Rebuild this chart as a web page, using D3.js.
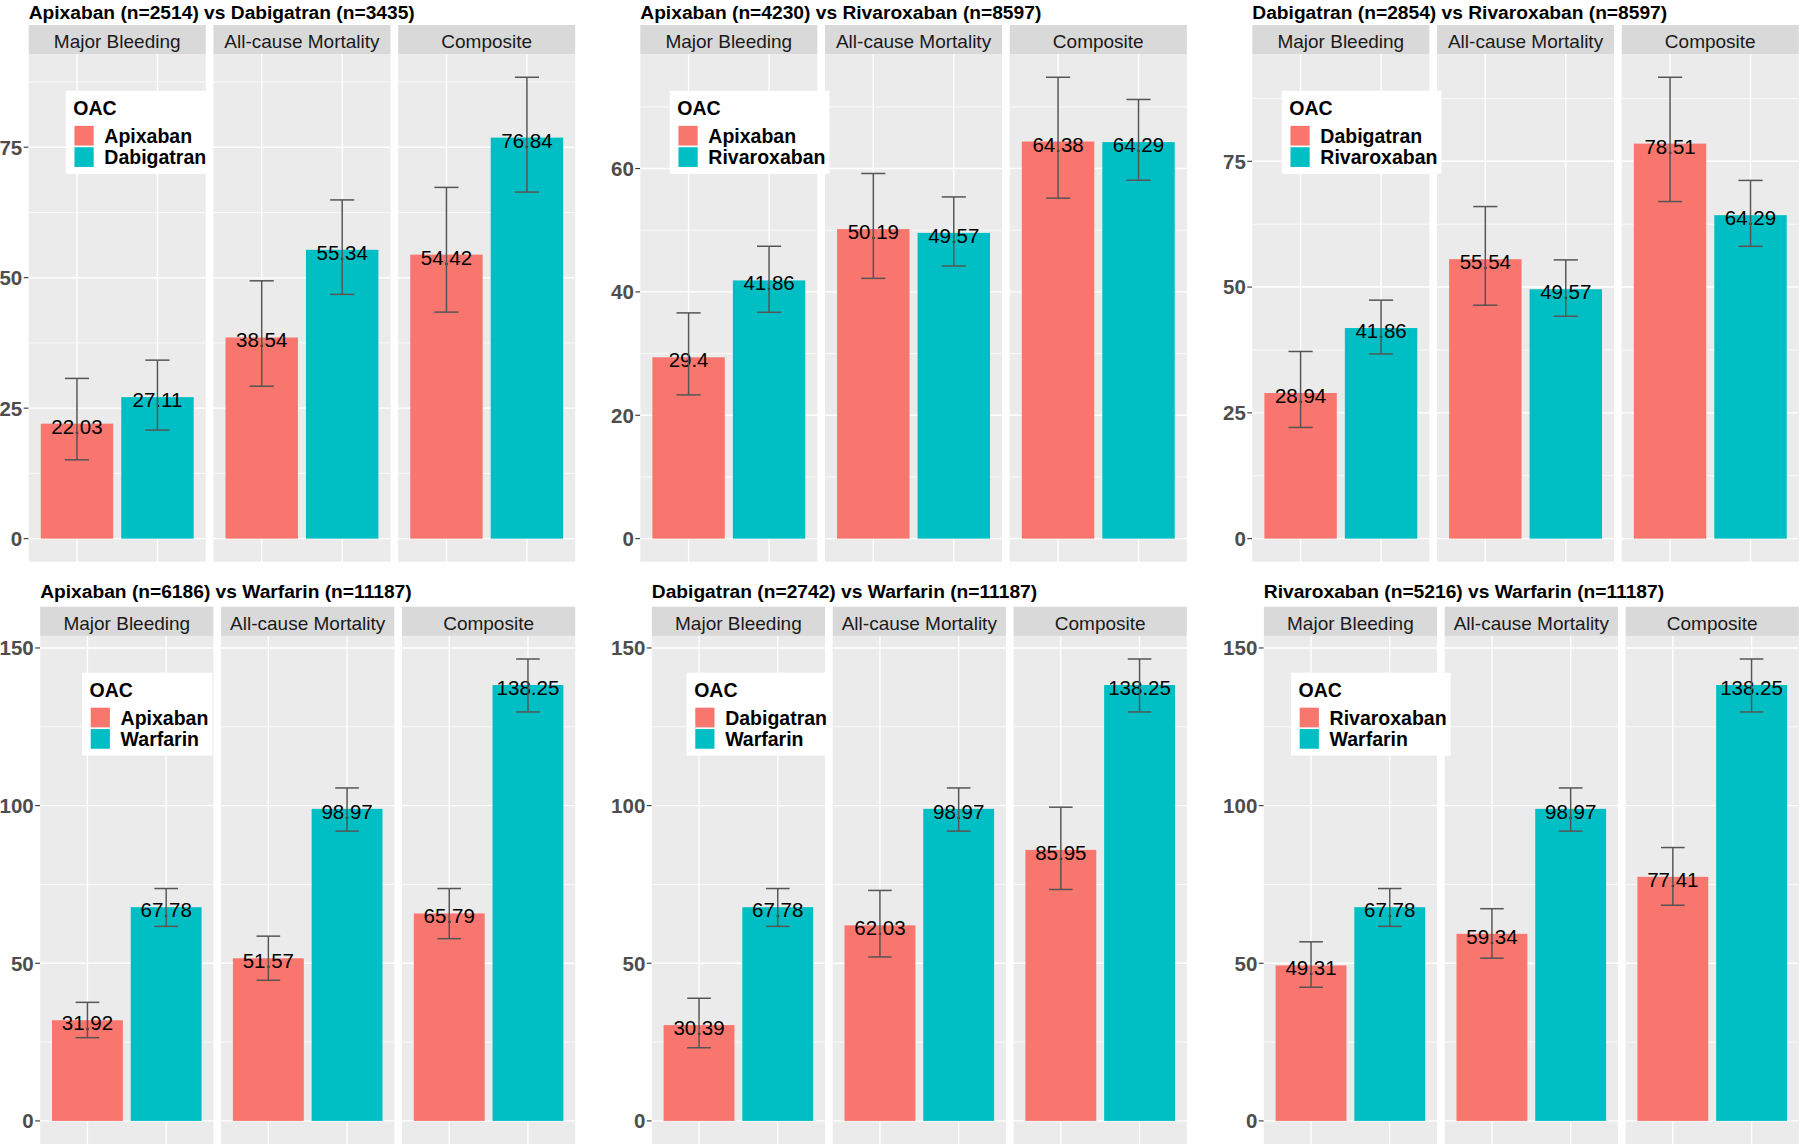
<!DOCTYPE html>
<html><head><meta charset="utf-8">
<script src="https://cdn.jsdelivr.net/npm/d3@7"></script>
<style>
body{margin:0;background:#fff}
svg{display:block}
text{font-family:"Liberation Sans",Arial,Helvetica,sans-serif}
</style>
</head><body>
<svg id="chart" width="1800" height="1144"></svg>
<script>
// ---------------- data ----------------
const titles = [
  "Apixaban (n=2514) vs Dabigatran (n=3435)",
  "Apixaban (n=4230) vs Rivaroxaban (n=8597)",
  "Dabigatran (n=2854) vs Rivaroxaban (n=8597)",
  "Apixaban (n=6186) vs Warfarin (n=11187)",
  "Dabigatran (n=2742) vs Warfarin (n=11187)",
  "Rivaroxaban (n=5216) vs Warfarin (n=11187)"
];
const outcomes = ["Major Bleeding", "All-cause Mortality", "Composite"];
const drugA = ["Apixaban", "Apixaban", "Dabigatran", "Apixaban", "Dabigatran", "Rivaroxaban"];
const drugB = ["Dabigatran", "Rivaroxaban", "Rivaroxaban", "Warfarin", "Warfarin", "Warfarin"];

const rateA  = [[22.03,38.54,54.42],[29.4,50.19,64.38],[28.94,55.54,78.51],[31.92,51.57,65.79],[30.39,62.03,85.95],[49.31,59.34,77.41]];
const lowerA = [[15.1,29.2,43.4],[23.3,42.2,55.2],[22.1,46.4,67.0],[26.4,44.6,57.8],[23.2,52.0,73.4],[42.4,51.6,68.4]];
const upperA = [[30.7,49.4,67.3],[36.6,59.2,74.8],[37.2,66.0,91.7],[37.6,58.6,73.7],[38.9,73.1,99.5],[56.8,67.3,86.7]];

const rateB  = [[27.11,55.34,76.84],[41.86,49.57,64.29],[41.86,49.57,64.29],[67.78,98.97,138.25],[67.78,98.97,138.25],[67.78,98.97,138.25]];
const lowerB = [[20.8,46.8,66.4],[36.7,44.2,58.1],[36.7,44.2,58.1],[61.7,91.9,129.7],[61.7,91.9,129.7],[61.7,91.9,129.7]];
const upperB = [[34.2,64.9,88.4],[47.4,55.4,71.2],[47.4,55.4,71.2],[73.7,105.6,146.5],[73.7,105.6,146.5],[73.7,105.6,146.5]];

const yTicks = [[0,25,50,75],[0,20,40,60],[0,25,50,75],[0,50,100,150],[0,50,100,150],[0,50,100,150]];

const legendTitle = "OAC";
const colorA = "#F8766D", colorB = "#00BFC4";

// ---------------- layout ----------------
const svg = d3.select("#chart");
const colX = [0, 611.6, 1223.6];
const rows = [
  {stripTop: 25, panelBottom: 561.7, leftPad: 28.7, titleY: 18.5},
  {stripTop: 606.7, panelBottom: 1144, leftPad: 40.2, titleY: 597.5}
];
const stripH = 29.2, gap = 7.7, blockRight = 575.2;

for (let i = 0; i < 6; i++) {
  const r = rows[Math.floor(i / 3)];
  const x0 = colX[i % 3];
  const left = x0 + r.leftPad, right = x0 + blockRight;
  const panelW = (right - left - 2 * gap) / 3;
  const panelTop = r.stripTop + stripH;
  const maxU = d3.max(upperA[i].concat(upperB[i]));
  const y = d3.scaleLinear().domain([-0.05 * maxU, 1.05 * maxU]).range([r.panelBottom, panelTop]);
  const ticks = yTicks[i];
  const tstep = ticks[1] - ticks[0];
  const minors = ticks.map(t => t + tstep / 2).filter(v => v < y.domain()[1]);

  const g = svg.append("g");

  // title
  g.append("text").attr("x", left).attr("y", r.titleY)
    .attr("font-size", 19.2).attr("font-weight", "bold").attr("fill", "#000")
    .text(titles[i]);

  // y axis ticks & labels
  const ax = g.append("g");
  ticks.forEach(t => {
    ax.append("line").attr("x1", left - 5).attr("x2", left)
      .attr("y1", y(t)).attr("y2", y(t)).attr("stroke", "#333").attr("stroke-width", 1.1);
    ax.append("text").attr("x", left - 6.5).attr("y", y(t) + 7.4)
      .attr("text-anchor", "end").attr("font-size", 20.5).attr("font-weight", "bold")
      .attr("fill", "#4D4D4D").text(t);
  });

  outcomes.forEach((o, j) => {
    const px = left + j * (panelW + gap);
    const x = d3.scalePoint().domain([drugA[i], drugB[i]]).range([px, px + panelW]).padding(0.6);
    const bw = 0.9 * x.step();
    const cw = 0.3 * x.step();
    const pg = g.append("g");

    // panel background
    pg.append("rect").attr("x", px).attr("y", panelTop).attr("width", panelW)
      .attr("height", r.panelBottom - panelTop).attr("fill", "#EBEBEB");
    // minor grid
    minors.forEach(v => pg.append("line").attr("x1", px).attr("x2", px + panelW)
      .attr("y1", y(v)).attr("y2", y(v)).attr("stroke", "#fff").attr("stroke-width", 0.7));
    // major grid
    ticks.forEach(v => pg.append("line").attr("x1", px).attr("x2", px + panelW)
      .attr("y1", y(v)).attr("y2", y(v)).attr("stroke", "#fff").attr("stroke-width", 1.4));
    x.domain().forEach(d => pg.append("line").attr("x1", x(d)).attr("x2", x(d))
      .attr("y1", panelTop).attr("y2", r.panelBottom).attr("stroke", "#fff").attr("stroke-width", 1.4));

    // strip
    pg.append("rect").attr("x", px).attr("y", r.stripTop).attr("width", panelW)
      .attr("height", stripH).attr("fill", "#D9D9D9");
    pg.append("text").attr("x", px + panelW / 2).attr("y", r.stripTop + stripH / 2 + 8.3)
      .attr("text-anchor", "middle").attr("font-size", 19).attr("fill", "#1A1A1A").text(o);

    const bars = [
      {drug: drugA[i], v: rateA[i][j], lo: lowerA[i][j], hi: upperA[i][j], c: colorA},
      {drug: drugB[i], v: rateB[i][j], lo: lowerB[i][j], hi: upperB[i][j], c: colorB}
    ];
    bars.forEach(b => {
      pg.append("rect").attr("x", x(b.drug) - bw / 2).attr("y", y(b.v))
        .attr("width", bw).attr("height", y(0) - y(b.v)).attr("fill", b.c);
    });
    bars.forEach(b => {
      pg.append("text").attr("x", x(b.drug)).attr("y", y(b.v) + 10)
        .attr("text-anchor", "middle").attr("font-size", 20.5).attr("fill", "#000")
        .text(String(b.v));
    });
    bars.forEach(b => {
      const cx = x(b.drug);
      const eg = pg.append("g").attr("stroke", "#555").attr("stroke-width", 1.5).attr("fill", "none");
      eg.append("line").attr("x1", cx).attr("x2", cx).attr("y1", y(b.lo)).attr("y2", y(b.hi));
      eg.append("line").attr("x1", cx - cw / 2).attr("x2", cx + cw / 2).attr("y1", y(b.lo)).attr("y2", y(b.lo));
      eg.append("line").attr("x1", cx - cw / 2).attr("x2", cx + cw / 2).attr("y1", y(b.hi)).attr("y2", y(b.hi));
    });
  });

  // legend (inside, at 0.2 / 0.8 of the panel region)
  const lg = g.append("g");
  const box = lg.append("rect").attr("fill", "#fff");
  const labs = [drugA[i], drugB[i]];
  const cols = [colorA, colorB];
  const cxL = left + 0.2 * (right - left);
  const cyL = r.stripTop + 0.2 * (r.panelBottom - r.stripTop);
  const bh = 83;
  const tnodes = [];
  const ttl = lg.append("text").attr("font-size", 19.5).attr("font-weight", "bold").attr("fill", "#000").text(legendTitle);
  labs.forEach((l, k) => {
    tnodes.push(lg.append("text").attr("font-size", 19.5).attr("font-weight", "bold").attr("fill", "#000").text(l));
  });
  const maxW = d3.max(tnodes.map(t => t.node().getComputedTextLength()));
  const bw2 = 38.6 + maxW + 4;
  const lx = cxL - bw2 / 2, ly = cyL - bh / 2;
  box.attr("x", lx).attr("y", ly).attr("width", bw2).attr("height", bh);
  ttl.attr("x", lx + 7.6).attr("y", ly + 24);
  labs.forEach((l, k) => {
    const ky = ly + 35 + k * 21.4;
    lg.append("rect").attr("x", lx + 8.7).attr("y", ky).attr("width", 19.2).attr("height", 19.7).attr("fill", cols[k]);
    tnodes[k].attr("x", lx + 38.6).attr("y", ky + 9.85 + 7.4);
  });
}
</script>
</body></html>
